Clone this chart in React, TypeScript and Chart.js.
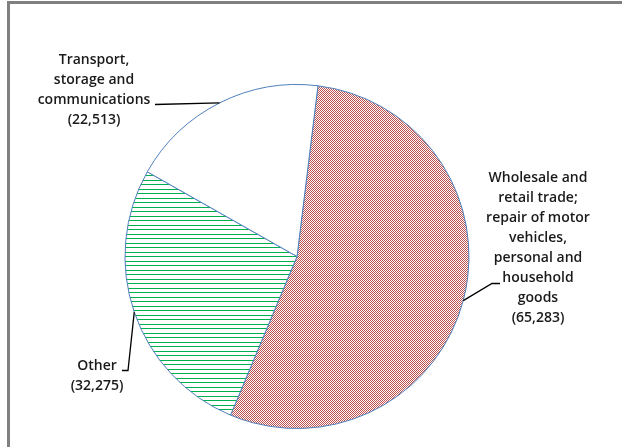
import React, { useEffect, useRef } from "react";
import { Chart, registerables } from "chart.js";

Chart.register(...registerables);

const categories = [
  "Wholesale and retail trade; repair of motor vehicles, personal and household goods",
  "Other",
  "Transport, storage and communications",
];
const values = [65283, 32275, 22513];
const labelLines = [
  ["Wholesale and", "retail trade;", "repair of motor", "vehicles,", "personal and", "household", "goods"],
  ["Other"],
  ["Transport,", "storage and", "communications"],
];

// label placement (offsets from pie centre) - styling only
const labelLayout = [
  { tx: 241, ty: -78, leader: [[195, 27], [203, 27]] },
  { tx: -200, ty: 110, leader: [[-169, 114], [-175, 114]] },
  { tx: -203, ty: -196, leader: [[-142, -152]] },
];

function makeCheckerPattern(): CanvasPattern | string {
  const c = document.createElement("canvas");
  c.width = 2;
  c.height = 2;
  const g = c.getContext("2d");
  if (!g) return "#C0504D";
  g.fillStyle = "#ffffff";
  g.fillRect(0, 0, 2, 2);
  g.fillStyle = "#C0504D";
  g.fillRect(0, 0, 1, 1);
  g.fillRect(1, 1, 1, 1);
  return g.createPattern(c, "repeat") || "#C0504D";
}

function makeLinePattern(): CanvasPattern | string {
  const c = document.createElement("canvas");
  c.width = 8;
  c.height = 9;
  const g = c.getContext("2d");
  if (!g) return "#00B050";
  g.fillStyle = "#ffffff";
  g.fillRect(0, 0, 8, 9);
  g.fillStyle = "#00B050";
  g.fillRect(0, 0, 8, 1);
  g.fillRect(0, 4, 8, 1);
  return g.createPattern(c, "repeat") || "#00B050";
}

const labelPlugin = {
  id: "pieLabels",
  afterDatasetsDraw(chart: any) {
    const ctx = chart.ctx as CanvasRenderingContext2D;
    const meta = chart.getDatasetMeta(0);
    ctx.save();
    meta.data.forEach((arc: any, i: number) => {
      const { x, y, startAngle, endAngle, outerRadius } = arc.getProps(
        ["x", "y", "startAngle", "endAngle", "outerRadius"],
        true
      );
      const mid = (startAngle + endAngle) / 2;
      const ex = x + Math.cos(mid) * outerRadius;
      const ey = y + Math.sin(mid) * outerRadius;
      const lay = labelLayout[i];
      ctx.strokeStyle = "#000000";
      ctx.lineWidth = 1.3;
      ctx.beginPath();
      ctx.moveTo(ex, ey);
      lay.leader.forEach((p) => ctx.lineTo(x + p[0], y + p[1]));
      ctx.stroke();
      const lines = [...labelLines[i], "(" + values[i].toLocaleString("en-US") + ")"];
      ctx.fillStyle = "#1a1a1a";
      ctx.font = "600 14px 'Open Sans'";
      ctx.textAlign = "center";
      ctx.textBaseline = "middle";
      lines.forEach((t, k) => {
        ctx.fillText(t, x + lay.tx, y + lay.ty + k * 20);
      });
    });
    ctx.restore();
  },
};

export default function App() {
  const ref = useRef<HTMLCanvasElement | null>(null);
  useEffect(() => {
    if (!ref.current) return;
    const chart = new Chart(ref.current, {
      type: "pie",
      data: {
        labels: categories,
        datasets: [
          {
            data: values,
            backgroundColor: [makeCheckerPattern(), makeLinePattern(), "#ffffff"],
            borderColor: "#4F81BD",
            borderWidth: 1,
          },
        ],
      },
      options: {
        animation: false,
        responsive: false,
        devicePixelRatio: 1,
        rotation: 7,
        layout: { padding: { left: 124, right: 152, top: 84, bottom: 18 } },
        plugins: {
          legend: { display: false },
          tooltip: { enabled: false },
        },
      },
      plugins: [labelPlugin],
    });
    return () => chart.destroy();
  }, []);
  return (
    <div
      style={{
        position: "absolute",
        left: 0,
        top: 0,
        width: 622,
        height: 447,
        overflow: "hidden",
        background: "#ffffff",
      }}
    >
      <div
        style={{
          position: "absolute",
          left: 7,
          top: 1,
          width: 700,
          height: 600,
          borderLeft: "3px solid #808080",
          borderTop: "3px solid #808080",
        }}
      />
      <canvas
        ref={ref}
        width={622}
        height={447}
        style={{ position: "absolute", left: 0, top: 0, width: 622, height: 447 }}
      />
    </div>
  );
}
